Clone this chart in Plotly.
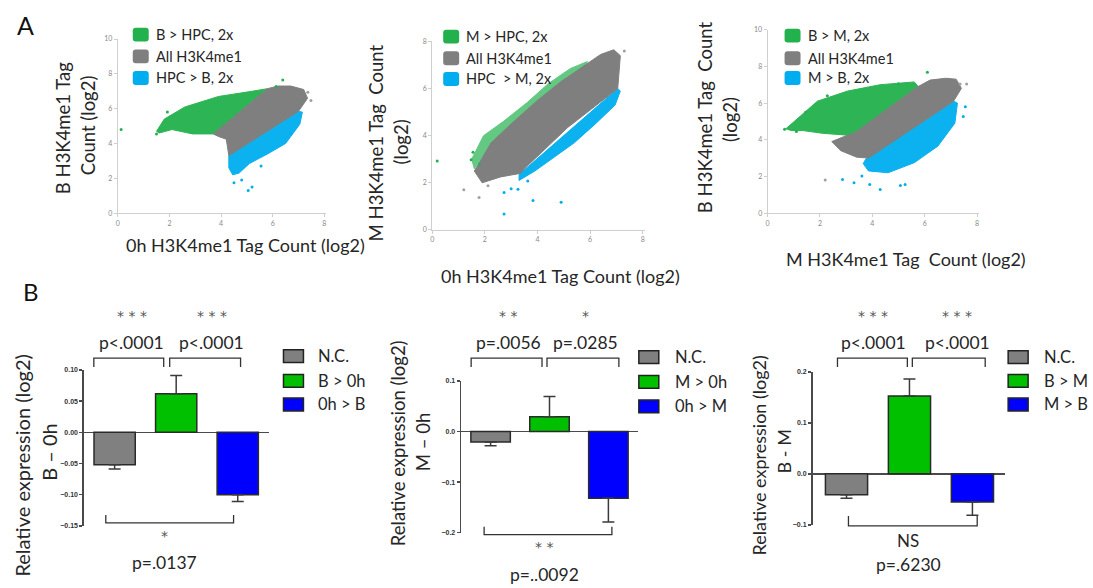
import plotly.graph_objects as go

W, H = 1093, 588
def X(p): return p / W
def Y(p): return 1 - p / H

FONT = "Lato"
TXT = "#262626"
GREEN_S, GRAY_S, BLUE_S = "#22b14c", "#7f7f7f", "#00aeef"
GREEN_B, GRAY_B, BLUE_B = "#00c000", "#808080", "#0000ff"

# ---------------- Panel A data (cloud outlines + outlying points, log2 tag counts) -------------
A1_labels = ["B > HPC, 2x", "All H3K4me1", "HPC > B, 2x"]
A1_green_x = [1.5, 1.8, 2.6, 3.9, 5.2, 5.8, 3.7, 2.9, 2.1, 1.6]
A1_green_y = [4.7, 5.4, 6.1, 6.7, 7.0, 7.15, 4.55, 4.55, 4.8, 4.6]
A1_gray_x = [3.7, 5.8, 6.2, 6.7, 7.2, 7.35, 7.0, 4.3, 4.25, 4.2, 3.9]
A1_gray_y = [4.55, 7.15, 7.3, 7.3, 7.1, 6.6, 5.85, 3.3, 3.8, 4.25, 4.4]
A1_blue_x = [4.3, 7.0, 7.15, 7.05, 6.5, 5.8, 5.1, 4.7, 4.45, 4.3]
A1_blue_y = [3.3, 5.85, 5.8, 5.1, 4.0, 3.4, 2.85, 2.3, 2.2, 2.6]
A1_green_pts_x = [0.13, 1.5, 1.92, 6.39, 6.13]
A1_green_pts_y = [4.8, 4.55, 5.81, 7.64, 7.28]
A1_gray_pts_x = [7.48, 7.36]
A1_gray_pts_y = [6.47, 6.94]
A1_blue_pts_x = [4.8, 5.2, 4.5, 5.55, 6.7, 5.05]
A1_blue_pts_y = [1.9, 1.5, 1.75, 2.7, 4.6, 1.3]

A2_labels = ["M > HPC, 2x", "All H3K4me1", "HPC  > M, 2x"]
A2_green_x = [1.5, 1.95, 2.7, 3.6, 4.4, 5.25, 5.9, 5.8, 4.9, 4.0, 3.0, 2.2, 1.6]
A2_green_y = [3.0, 4.0, 4.6, 5.4, 6.2, 6.85, 7.15, 6.9, 6.2, 5.4, 4.4, 3.6, 2.6]
A2_gray_x = [1.6, 2.24, 3.0, 4.0, 4.9, 5.8, 6.4, 6.9, 7.15, 7.05, 5.15, 3.6, 3.35, 2.6, 1.9]
A2_gray_y = [2.5, 3.7, 4.5, 5.5, 6.3, 7.0, 7.45, 7.65, 7.4, 6.0, 4.35, 2.7, 2.4, 2.25, 2.0]
A2_blue_x = [3.3, 7.05, 7.15, 6.95, 6.2, 5.4, 4.9, 3.9, 3.3]
A2_blue_y = [2.35, 6.0, 5.9, 5.3, 4.5, 3.7, 3.3, 2.5, 2.1]
A2_green_pts_x = [0.19, 1.48, 1.55, 1.8]
A2_green_pts_y = [2.93, 2.98, 3.3, 2.8]
A2_gray_pts_x = [1.78, 2.12, 7.3, 1.2]
A2_gray_pts_y = [1.38, 1.88, 7.6, 1.7]
A2_blue_pts_x = [2.73, 3.26, 3.83, 4.9, 2.73, 3.63, 3.0]
A2_blue_pts_y = [1.59, 1.73, 1.25, 1.17, 0.67, 2.08, 1.75]

A3_labels = ["B > M, 2x", "All H3K4me1", "M > B, 2x"]
A3_green_x = [0.7, 1.26, 1.9, 3.05, 4.3, 5.6, 5.75, 3.3, 3.05, 2.1, 1.35, 0.9]
A3_green_y = [4.6, 5.3, 6.1, 6.65, 7.0, 7.15, 6.9, 4.35, 4.25, 4.35, 4.5, 4.5]
A3_gray_x = [3.05, 3.3, 5.75, 6.2, 6.8, 7.2, 7.4, 7.1, 3.85, 3.4, 2.8, 2.45]
A3_gray_y = [4.25, 4.35, 6.9, 7.25, 7.35, 7.3, 6.8, 6.1, 3.0, 3.05, 3.4, 3.9]
A3_blue_x = [3.75, 7.1, 7.25, 7.15, 6.5, 5.6, 4.6, 3.85, 3.65]
A3_blue_y = [2.95, 6.1, 6.0, 4.9, 3.65, 2.75, 2.2, 2.3, 2.7]
A3_green_pts_x = [0.65, 1.1, 1.45, 2.28, 6.1, 5.0]
A3_green_pts_y = [4.57, 4.45, 5.5, 6.4, 7.68, 7.05]
A3_gray_pts_x = [2.2, 7.35, 7.6]
A3_gray_pts_y = [1.8, 7.04, 7.04]
A3_blue_pts_x = [7.55, 7.47, 4.3, 5.07, 2.86, 3.6, 3.3, 3.9, 5.25]
A3_blue_pts_y = [5.8, 5.27, 1.29, 1.5, 1.83, 2.03, 1.66, 1.56, 1.56]

# ---------------- Panel B data (relative expression, log2) ----------------
B1_cats = ["N.C.", "B > 0h", "0h > B"]
B1_vals = [-0.052, 0.062, -0.100]
B1_errs = [0.007, 0.029, 0.011]
B1_ticks = [-0.15, -0.10, -0.05, 0.00, 0.05, 0.10]

B2_cats = ["N.C.", "M > 0h", "0h > M"]
B2_vals = [-0.021, 0.029, -0.132]
B2_errs = [0.007, 0.040, 0.047]
B2_ticks = [-0.2, -0.1, 0.0, 0.1]

B3_cats = ["N.C.", "B > M", "M > B"]
B3_vals = [-0.041, 0.153, -0.055]
B3_errs = [0.007, 0.033, 0.026]
B3_ticks = [-0.1, 0.0, 0.1, 0.2]

fig = go.Figure()

def region(xs, ys, color, ax, opacity=1.0):
    fig.add_trace(go.Scatter(x=xs + [xs[0]], y=ys + [ys[0]], mode="lines", fill="toself",
                             line=dict(width=1, color=color), fillcolor=color, opacity=opacity,
                             xaxis=ax[0], yaxis=ax[1], showlegend=False, hoverinfo="skip"))

def pts(xs, ys, color, ax):
    fig.add_trace(go.Scatter(x=xs, y=ys, mode="markers", marker=dict(size=3, color=color),
                             xaxis=ax[0], yaxis=ax[1], showlegend=False, hoverinfo="skip"))

for ax, g, gr, b in [
    (("x", "y"), (A1_green_x, A1_green_y, A1_green_pts_x, A1_green_pts_y),
     (A1_gray_x, A1_gray_y, A1_gray_pts_x, A1_gray_pts_y),
     (A1_blue_x, A1_blue_y, A1_blue_pts_x, A1_blue_pts_y)),
    (("x2", "y2"), (A2_green_x, A2_green_y, A2_green_pts_x, A2_green_pts_y),
     (A2_gray_x, A2_gray_y, A2_gray_pts_x, A2_gray_pts_y),
     (A2_blue_x, A2_blue_y, A2_blue_pts_x, A2_blue_pts_y)),
    (("x3", "y3"), (A3_green_x, A3_green_y, A3_green_pts_x, A3_green_pts_y),
     (A3_gray_x, A3_gray_y, A3_gray_pts_x, A3_gray_pts_y),
     (A3_blue_x, A3_blue_y, A3_blue_pts_x, A3_blue_pts_y)),
]:
    region(g[0], g[1], GREEN_S, ax, 0.7 if ax[0] == "x2" else 0.95)
    region(b[0], b[1], BLUE_S, ax, 0.95)
    region(gr[0], gr[1], GRAY_S, ax, 1.0)
    pts(g[2], g[3], GREEN_S, ax)
    pts(gr[2], gr[3], "#a0a0a0", ax)
    pts(b[2], b[3], BLUE_S, ax)

def bars(cats, vals, errs, ax):
    plus = [e if v >= 0 else 0 for v, e in zip(vals, errs)]
    minus = [e if v < 0 else 0 for v, e in zip(vals, errs)]
    fig.add_trace(go.Bar(x=cats, y=vals, width=0.67, xaxis=ax[0], yaxis=ax[1],
                         marker=dict(color=[GRAY_B, GREEN_B, BLUE_B], line=dict(color="#2a2a2a", width=1.5)),
                         error_y=dict(type="data", symmetric=False, array=plus, arrayminus=minus,
                                      color="#3a3a3a", thickness=1.5, width=6),
                         showlegend=False, hoverinfo="skip"))

bars(B1_cats, B1_vals, B1_errs, ("x4", "y4"))
bars(B2_cats, B2_vals, B2_errs, ("x5", "y5"))
bars(B3_cats, B3_vals, B3_errs, ("x6", "y6"))

sc_axis = dict(showline=True, linecolor="#cfcfcf", linewidth=1, ticks="outside", ticklen=3,
               tickcolor="#cfcfcf", tickfont=dict(size=7, color="#8a8a8a", family=FONT),
               showgrid=False, zeroline=False, dtick=2, tick0=0, fixedrange=True)

def yb(ticks, fmt):
    return dict(showline=True, linecolor="#4a4a4a", linewidth=1.5, ticks="outside", ticklen=3,
                tickwidth=1.5, tickcolor="#4a4a4a", tickvals=ticks, tickformat=fmt,
                tickfont=dict(size=7, color="#333", family="Liberation Sans", weight="bold"),
                showgrid=False, zeroline=True, zerolinecolor="#4a4a4a", zerolinewidth=1.5)

layout = dict(
    width=W, height=H, margin=dict(l=0, r=0, t=0, b=0), paper_bgcolor="white", plot_bgcolor="rgba(0,0,0,0)",
    showlegend=False, bargap=0,
    xaxis=dict(sc_axis, domain=[X(116), X(325)], range=[0, 8.08], anchor="y"),
    yaxis=dict(sc_axis, domain=[Y(211), Y(34.5)], range=[0, 10], anchor="x"),
    xaxis2=dict(sc_axis, domain=[X(431), X(644)], range=[0, 8.08], anchor="y2"),
    yaxis2=dict(sc_axis, domain=[Y(228), Y(37)], range=[0, 8], anchor="x2"),
    xaxis3=dict(sc_axis, domain=[X(767), X(979)], range=[0, 8.08], anchor="y3"),
    yaxis3=dict(sc_axis, domain=[Y(211), Y(25)], range=[0, 10], anchor="x3"),
    xaxis4=dict(domain=[X(82), X(267)], range=[-0.5, 2.5], visible=False, anchor="y4"),
    yaxis4=dict(yb(B1_ticks, ".2f"), domain=[Y(528), Y(370)], range=[-0.15, 0.10], anchor="x4"),
    xaxis5=dict(domain=[X(460), X(637)], range=[-0.5, 2.5], visible=False, anchor="y5"),
    yaxis5=dict(yb(B2_ticks, ".1f"), domain=[Y(535), Y(381)], range=[-0.2, 0.1], anchor="x5"),
    xaxis6=dict(domain=[X(812), X(1005)], range=[-0.54, 2.52], visible=False, anchor="y6"),
    yaxis6=dict(yb(B3_ticks, ".1f"), domain=[Y(527), Y(372)], range=[-0.1, 0.2], anchor="x6"),
)

ann = []
shapes = []

def txt(s, x, y, size, color=TXT, angle=0, xanchor="center", family=FONT):
    ann.append(dict(text=s, x=X(x), y=Y(y), xref="paper", yref="paper", showarrow=False,
                    xanchor=xanchor, yanchor="middle", textangle=angle,
                    font=dict(size=size, color=color, family=family)))

def rrect(x0, y0, x1, y1, r, color):
    p = (f"M {X(x0+r)},{Y(y0)} L {X(x1-r)},{Y(y0)} Q {X(x1)},{Y(y0)} {X(x1)},{Y(y0+r)} "
         f"L {X(x1)},{Y(y1-r)} Q {X(x1)},{Y(y1)} {X(x1-r)},{Y(y1)} L {X(x0+r)},{Y(y1)} "
         f"Q {X(x0)},{Y(y1)} {X(x0)},{Y(y1-r)} L {X(x0)},{Y(y0+r)} Q {X(x0)},{Y(y0)} {X(x0+r)},{Y(y0)} Z")
    shapes.append(dict(type="path", path=p, xref="paper", yref="paper", fillcolor=color, line=dict(width=0)))

def box(x0, y0, x1, y1, color):
    shapes.append(dict(type="rect", x0=X(x0), x1=X(x1), y0=Y(y1), y1=Y(y0), xref="paper", yref="paper",
                       fillcolor=color, line=dict(color="#222", width=1.5)))

def bracket(x0, x1, ytip, ybar):
    p = f"M {X(x0)},{Y(ytip)} L {X(x0)},{Y(ybar)} L {X(x1)},{Y(ybar)} L {X(x1)},{Y(ytip)}"
    shapes.append(dict(type="path", path=p, xref="paper", yref="paper", line=dict(color="#333", width=1.3)))

# panel letters
txt("A", 24, 20, 25, "#111")
txt("B", 29, 290, 24, "#111")

# --- A legends and titles
colsA = [GREEN_S, GRAY_S, BLUE_S]
for (lx, tx, ys, labels) in [(131, 152, [30, 52, 74], A1_labels),
                             (442, 463, [32, 54, 75], A2_labels),
                             (784, 805, [31, 54, 74], A3_labels)]:
    for yc, lab, c in zip(ys, labels, colsA):
        rrect(lx, yc - 7, lx + 16, yc + 7, 3, c)
        txt(lab, tx, yc, 14.5, xanchor="left")

TA = 18.5
txt("B H3K4me1 Tag", 61, 125, TA, angle=-90)
txt("Count (log2)", 86, 122, TA, angle=-90)
txt("0h H3K4me1 Tag Count (log2)", 244, 243, 18)

txt("M H3K4me1 Tag  Count", 375, 140, TA, angle=-90)
txt("(log2)", 400, 139, TA, angle=-90)
txt("0h H3K4me1 Tag Count (log2)", 560, 275, 18)

txt("B H3K4me1 Tag  Count", 705, 114, TA, angle=-90)
txt("(log2)", 730, 116, TA, angle=-90)
txt("M H3K4me1 Tag  Count (log2)", 906, 257, 18)

# --- B panels
colsB = [GRAY_B, GREEN_B, BLUE_B]
B_specs = [
    dict(cats=B1_cats, lx=282, tx=315, ys=[356, 381, 405],
         stars=["* * *", "* * *"], ptop=["p<.0001", "p<.0001"], cx=[130, 210],
         lb=(92, 162), rb=(168, 239), bb=(104, 232, 525, 517), bstar="*", bp="p=.0137", bcx=163,
         bsy=538, bpy=565, yt=("Relative expression (log2)", 20, 467, 20), yt2=("B \u2013 0h", 47, 453)),
    dict(cats=B2_cats, lx=638, tx=672, ys=[357, 382, 407],
         stars=["* *", "*"], ptop=["p=.0056", "p=.0285"], cx=[507, 585],
         lb=(470, 541), rb=(546, 618), bb=(483, 611, 537, 529), bstar="* *", bp="p=..0092", bcx=543,
         bsy=549, bpy=577, yt=("Relative expression (log2)", 397, 444, 18.5), yt2=("M \u2013 0h", 422, 443)),
    dict(cats=B3_cats, lx=1008, tx=1042, ys=[357, 381, 405],
         stars=["* * *", "* * *"], ptop=["p<.0001", "p<.0001"], cx=[873, 957],
         lb=(837, 907), rb=(912, 985), bb=(848, 977, 528, 518), bstar="NS", bp="p=.6230", bcx=908,
         bsy=543, bpy=567, yt=("Relative expression (log2)", 758, 457, 18), yt2=("B - M", 783, 453)),
]
for s in B_specs:
    for yc, lab, c in zip(s["ys"], s["cats"], colsB):
        box(s["lx"], yc - 6.5, s["lx"] + 20, yc + 6.5, c)
        txt(lab, s["tx"], yc, 16.5, xanchor="left")
    for cx, st, pt in zip(s["cx"], s["stars"], s["ptop"]):
        txt(st, cx, 315, 14, "#555", family="DejaVu Sans")
        txt(pt, cx, 342, 17.5)
    bracket(s["lb"][0], s["lb"][1], 367, 358)
    bracket(s["rb"][0], s["rb"][1], 367, 358)
    x0, x1, ybar, ytip = s["bb"]
    bracket(x0, x1, ytip, ybar)
    if s["bstar"] == "NS":
        txt(s["bstar"], s["bcx"], s["bsy"], 17, TXT)
    else:
        txt(s["bstar"], s["bcx"], s["bsy"], 14, "#555", family="DejaVu Sans")
    txt(s["bp"], s["bcx"], s["bpy"], 17.5)
    t, x, y, sz = s["yt"]
    txt(t, x, y, sz, angle=-90)
    t2, x2, y2 = s["yt2"]
    txt(t2, x2, y2, sz, angle=-90)

layout["annotations"] = ann
layout["shapes"] = shapes
fig.update_layout(**layout)
fig.write_html("out.html", config={"displayModeBar": False, "staticPlot": True},
               post_script="document.body.style.margin='0';document.body.style.overflow='hidden';")
